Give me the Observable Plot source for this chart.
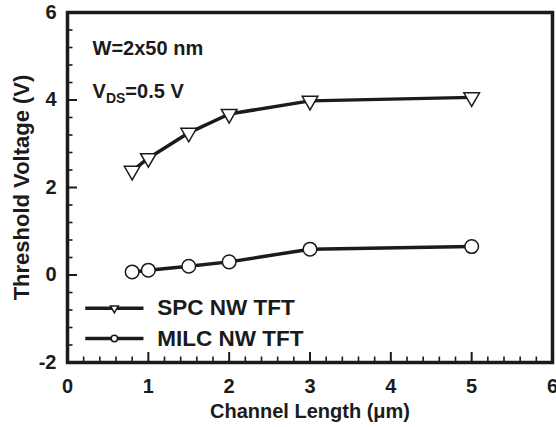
<!DOCTYPE html>
<html>
<head>
<meta charset="utf-8">
<script src="https://cdn.jsdelivr.net/npm/d3@7"></script>
<script src="https://cdn.jsdelivr.net/npm/@observablehq/plot@0.6"></script>
<style>
  html, body { margin: 0; padding: 0; background: #fff; }
  #chart { width: 556px; height: 427px; }
</style>
</head>
<body>
<div id="chart"></div>
<script>
// ---- data ----
const channelLength = [0.8, 1.0, 1.5, 2.0, 3.0, 5.0];
const spcVth  = [2.38, 2.67, 3.25, 3.68, 3.98, 4.06];
const milcVth = [0.07, 0.11, 0.20, 0.30, 0.59, 0.65];
const seriesNames = ["SPC NW TFT", "MILC NW TFT"];
const xMajorTicks = [0, 1, 2, 3, 4, 5, 6];
const yMajorTicks = [-2, 0, 2, 4, 6];
const xTitle = "Channel Length (μm)";
const yTitle = "Threshold Voltage (V)";
const annotations = ["W=2x50 nm", "VDS=0.5 V"];

const spc  = channelLength.map((x, i) => ({x, y: spcVth[i]}));
const milc = channelLength.map((x, i) => ({x, y: milcVth[i]}));

const xMinor = d3.range(0, 6.001, 0.2).filter(v => Math.abs(v - Math.round(v)) > 1e-6);
const yMinor = d3.range(-2, 6.001, 0.4).filter(v => Math.abs(v / 2 - Math.round(v / 2)) > 1e-6);

const ink = "#1b1b1b";
const font = "'Liberation Sans', Arial, Helvetica, sans-serif";

const W = 556, H = 427, mL = 67, mR = 4, mT = 12, mB = 65;
const plotW = W - mL - mR, plotH = H - mT - mB;
const majorLen = 10, minorLen = 5.5;

// legend placement (data coordinates inside the frame)
const legend = [
  {name: seriesNames[0], y: -0.76, symbol: "triangle", rotate: 180, r: 5.5},
  {name: seriesNames[1], y: -1.45, symbol: "circle", rotate: 0, r: 6.5}
];

const plot = Plot.plot({
  width: W,
  height: H,
  marginLeft: mL,
  marginRight: mR,
  marginTop: mT,
  marginBottom: mB,
  style: {fontFamily: font, fontWeight: "bold", fontSize: "20px", color: ink, background: "white", overflow: "visible"},
  x: {domain: [0, 6]},
  y: {domain: [-2, 6]},
  marks: [
    Plot.frame({stroke: ink, strokeWidth: 3.5, fill: "none"}),
    // tick labels
    Plot.axisX({ticks: xMajorTicks, tickSize: 0, tickPadding: 16, tickFormat: d => String(d), fontSize: 20, label: null}),
    Plot.axisY({ticks: yMajorTicks, tickSize: 0, tickPadding: 11, tickFormat: d => String(d), fontSize: 20, label: null}),
    // inward tick marks
    Plot.ruleX(xMajorTicks, {x: d => d, insetTop: plotH - majorLen, stroke: ink, strokeWidth: 2}),
    Plot.ruleX(xMinor, {x: d => d, insetTop: plotH - minorLen, stroke: ink, strokeWidth: 1.6}),
    Plot.ruleY(yMajorTicks, {y: d => d, insetRight: plotW - majorLen, stroke: ink, strokeWidth: 2}),
    Plot.ruleY(yMinor, {y: d => d, insetRight: plotW - minorLen, stroke: ink, strokeWidth: 1.6}),
    // axis titles
    Plot.text([xTitle], {text: d => d, frameAnchor: "bottom", dy: 55, fontSize: 20, fill: ink}),
    Plot.text([yTitle], {text: d => d, frameAnchor: "left", dx: -46, rotate: -90, textAnchor: "middle", fontSize: 22, fill: ink}),
    // series
    Plot.line(spc, {x: "x", y: "y", stroke: ink, strokeWidth: 3.5}),
    Plot.dot(spc, {x: "x", y: "y", symbol: "triangle", rotate: 180, r: 5.8, fill: "white", stroke: ink, strokeWidth: 1.5}),
    Plot.line(milc, {x: "x", y: "y", stroke: ink, strokeWidth: 3.5}),
    Plot.dot(milc, {x: "x", y: "y", symbol: "circle", r: 6.8, fill: "white", stroke: ink, strokeWidth: 1.5}),
    // legend
    Plot.link(legend, {x1: 0.22, x2: 0.94, y1: "y", y2: "y", stroke: ink, strokeWidth: 3.5}),
    Plot.dot(legend, {x: 0.58, y: "y", symbol: d => d.symbol, rotate: d => d.rotate, r: d => d.r, fill: "white", stroke: ink, strokeWidth: 1.5}),
    Plot.text(legend, {x: 1.11, y: "y", text: "name", textAnchor: "start", fontSize: 22.5, fill: ink}),
    // annotations
    Plot.text(annotations, {x: 0.31, y: (d, i) => [5.18, 4.2][i], text: d => d, textAnchor: "start", fontSize: 20, fill: ink})
  ]
});

// subscript for V_DS
d3.select(plot).selectAll("text").filter(function() { return this.textContent === "VDS=0.5 V"; })
  .each(function() {
    const t = d3.select(this);
    t.text(null);
    t.append("tspan").text("V");
    t.append("tspan").attr("font-size", 14).attr("dy", 5).text("DS");
    t.append("tspan").attr("dy", -5).text("=0.5 V");
  });

document.getElementById("chart").appendChild(plot);
</script>
</body>
</html>
